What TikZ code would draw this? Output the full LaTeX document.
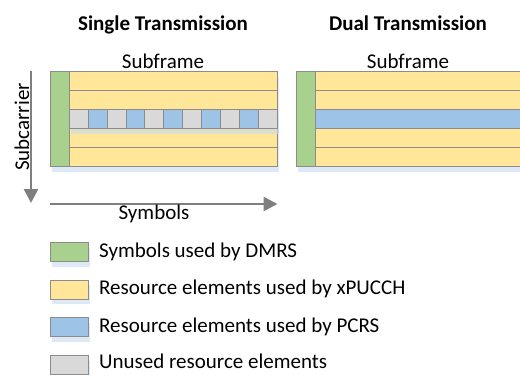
\documentclass[tikz,border=0pt]{standalone}
\usepackage{fontspec}
\setmainfont{Carlito}
\usetikzlibrary{arrows.meta}
\definecolor{dmrs}{HTML}{A9D18E}
\definecolor{pucch}{HTML}{FFE699}
\definecolor{pcrs}{HTML}{9DC3E6}
\definecolor{unused}{HTML}{D9D9D9}
\definecolor{edge}{HTML}{8C8C8C}
\definecolor{shade}{HTML}{C9DAF0}
\definecolor{axis}{HTML}{7F7F7F}
\tikzset{
  cellbox/.style={draw=edge, line width=0.9bp},
  shadowbox/.style={fill=shade, fill opacity=0.6, draw=none},
  txt/.style={font=\fontsize{21bp}{25bp}\selectfont, inner sep=0pt},
  title/.style={txt, font=\fontsize{21bp}{25bp}\selectfont\bfseries},
  axisarrow/.style={draw=axis, line width=2.6bp, -{Triangle[length=14bp,width=14bp]}},
  legbox/.style={cellbox, minimum width=38bp, minimum height=19bp, inner sep=0pt, anchor=north west},
}
\begin{document}
\begin{tikzpicture}[x=1bp, y=-1bp]
\useasboundingbox (0,0) rectangle (520,374);

% headings
\node[title, anchor=base] (tsingle) at (163,30) {Single Transmission};
\node[title, anchor=base] (tdual) at (408,30) {Dual Transmission};
\node[txt, anchor=base] (sfsingle) at (163,68) {Subframe};
\node[txt, anchor=base] (sfdual) at (408,68) {Subframe};

% ---- single transmission grid ----
\fill[shadowbox] (51.5,77.5) rectangle (279,172);
\fill[dmrs] (50,71.5) rectangle (69.3,166);
\draw[cellbox] (50,71.5) rectangle (69.3,166);
\foreach \r in {0,1,3,4}{
  \pgfmathsetmacro{\ya}{71.5+18.9*\r}
  \pgfmathsetmacro{\yb}{\ya+18.9}
  \draw[cellbox, fill=pucch] (69.3,\ya) rectangle (277.2,\yb);
}
% shadow of the reference-signal row
\fill[shadowbox] (70.5,115.3) rectangle (278.7,134.2);
\foreach \c in {0,...,10}{
  \pgfmathsetmacro{\xa}{69.3+18.9*\c}
  \pgfmathsetmacro{\xb}{\xa+18.9}
  \pgfmathtruncatemacro{\odd}{mod(\c,2)}
  \ifnum\odd=0
    \draw[cellbox, fill=unused] (\xa,109.3) rectangle (\xb,128.2);
  \else
    \draw[cellbox, fill=pcrs] (\xa,109.3) rectangle (\xb,128.2);
  \fi
}

% ---- dual transmission grid ----
\fill[shadowbox] (297.5,77.5) rectangle (524,172);
\fill[dmrs] (296,71.5) rectangle (315,166);
\draw[cellbox] (296,71.5) rectangle (315,166);
\foreach \r/\col in {0/pucch,1/pucch,2/pcrs,3/pucch,4/pucch}{
  \pgfmathsetmacro{\ya}{71.5+18.9*\r}
  \pgfmathsetmacro{\yb}{\ya+18.9}
  \draw[cellbox, fill=\col] (315,\ya) rectangle (524,\yb);
}

% ---- axes ----
\coordinate (vtop) at (31,71);
\coordinate (vbot) at (31,203);
\coordinate (hleft) at (50,204);
\coordinate (hright) at (277.5,204);
\draw[axisarrow] (vtop) -- (vbot);
\draw[axisarrow] (hleft) -- (hright);
\node[txt, rotate=90, anchor=base] (subc) at (29,127) {Subcarrier};
\node[txt, anchor=base] (symb) at (154,219) {Symbols};

% ---- legend ----
\foreach \i/\col/\lab/\dy in {0/dmrs/Symbols used by DMRS/15,
                          1/pucch/Resource elements used by xPUCCH/15,
                          2/pcrs/Resource elements used by PCRS/15,
                          3/unused/Unused resource elements/13.5}{
  \pgfmathsetmacro{\yy}{242+37.7*\i}
  \fill[shadowbox] (51.5,\yy+5.5) rectangle (89.5,\yy+24.5);
  \node[legbox, fill=\col] (leg\i) at (50,\yy) {};
  \node[txt, anchor=base west] (legtext\i) at (99,\yy+\dy) {\lab};
}
\end{tikzpicture}
\end{document}
